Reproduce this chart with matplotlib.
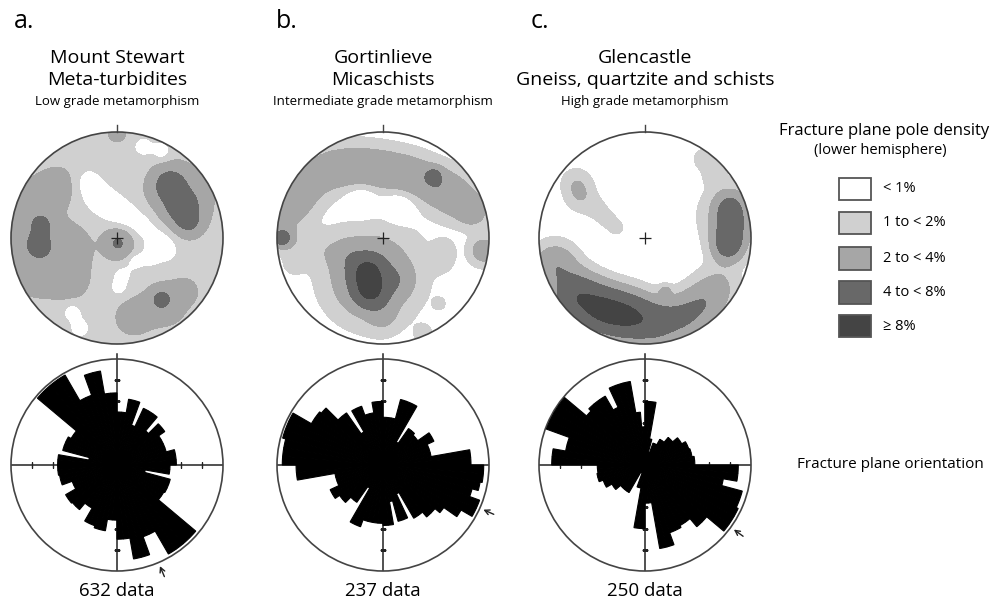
import numpy as np
import matplotlib
matplotlib.use("Agg")
import matplotlib.pyplot as plt
from matplotlib.patches import Circle, Rectangle

plt.rcParams['font.family'] = ['Open Sans', 'DejaVu Sans']

W, H = 991, 603

# panel texts
letters = ['a.', 'b.', 'c.']
sites = ['Mount Stewart', 'Gortinlieve', 'Glencastle']
rocks = ['Meta-turbidites', 'Micaschists', 'Gneiss, quartzite and schists']
grades = ['Low grade metamorphism', 'Intermediate grade metamorphism', 'High grade metamorphism']
counts = [632, 237, 250]

# density classes (%)
density_bounds = [1, 2, 4, 8]
density_labels = ['< 1%', '1 to < 2%', '2 to < 4%', '4 to < 8%', '\u2265 8%']
density_colors = ['#ffffff', '#d0d0d0', '#a6a6a6', '#686868', '#444444']

# pole concentrations: x, y (unit circle), spread, weight (%)
net_a_base = 1.5
net_a_x = [-0.75, -0.55, -0.75, -0.45, -0.45, -0.75, -0.72, -0.75,
           0.5, 0.62, 0.68, 0.6, 0.01, 0.42, 0.15, 0.45, 0.65, 0.0,
           -0.28, -0.18, -0.06, 0.08, 0.25, 0.4, 0.47, 0.32, 0.17, 0.05, 0.02,
           0.25, 0.42, -0.42, -0.35]
net_a_y = [0.35, 0.5, -0.1, -0.1, -0.4, -0.35, 0.12, -0.05,
           0.5, 0.3, 0.15, 0.38, -0.05, -0.58, -0.75, -0.62, -0.5, 0.99,
           0.52, 0.38, 0.3, 0.22, 0.12, -0.02, -0.12, -0.18, -0.22, -0.35, -0.47,
           0.86, 0.82, -0.7, -0.85]
net_a_s = [0.15, 0.12, 0.2, 0.15, 0.13, 0.15, 0.07, 0.07,
           0.1, 0.1, 0.08, 0.22, 0.09, 0.05, 0.12, 0.15, 0.08, 0.06,
           0.1, 0.1, 0.1, 0.1, 0.1, 0.09, 0.08, 0.07, 0.06, 0.06, 0.06,
           0.06, 0.06, 0.06, 0.06]
net_a_w = [1.3, 1.2, 1.5, 1.2, 1.2, 1.0, 2.5, 2.5,
           4.0, 4.0, 2.5, 1.3, 2.8, 3.5, 1.2, 1.3, 1.0, 1.3,
           -1.0, -1.0, -1.0, -1.0, -1.0, -1.0, -1.0, -1.0, -1.0, -1.0, -1.0,
           -1.3, -1.3, -1.3, -1.3]

net_b_base = 0.6
net_b_x = [-0.88, -0.75, -0.5, -0.25, 0.0, 0.25, 0.5, 0.7, 0.85, 0.48,
           -0.96, -0.92, 0.95, -0.15, -0.12, -0.12, -0.35, 0.15, 0.0, 0.0,
           -0.6, -0.85, 0.55, 0.58, 0.53, 0.38, -0.2, 0.15]
net_b_y = [0.3, 0.5, 0.65, 0.68, 0.65, 0.6, 0.5, 0.38, 0.25, 0.59,
           0.0, 0.0, -0.12, -0.32, -0.5, -0.38, -0.15, -0.4, -0.75, -0.2,
           -0.1, -0.25, -0.2, -0.1, -0.62, -0.9, 0.35, 0.3]
net_b_s = [0.14, 0.14, 0.14, 0.14, 0.14, 0.14, 0.14, 0.14, 0.1, 0.05,
           0.05, 0.09, 0.09, 0.1, 0.1, 0.25, 0.1, 0.1, 0.1, 0.35,
           0.12, 0.08, 0.08, 0.07, 0.04, 0.06, 0.1, 0.1]
net_b_w = [2.2, 2.2, 2.2, 2.2, 2.2, 2.2, 2.2, 2.2, 2.2, 2.5,
           4.0, 2.0, 2.5, 5.5, 5.5, 3.5, 1.0, 1.0, 1.0, 0.5,
           0.7, 0.6, 0.9, 0.6, 0.8, 0.8, -1.2, -1.2]

net_c_base = 0.5
net_c_x = [-0.65, -0.6, -0.45, -0.36, -0.27, 0.8, 0.81, 0.8, 0.78, 0.8, 0.55, 0.65,
           -0.85, -0.65, -0.4, -0.15, 0.1, 0.35, 0.55, 0.7, 0.19]
net_c_y = [0.52, 0.38, 0.27, 0.18, 0.1, 0.3, 0.15, 0.0, -0.1, 0.2, 0.75, 0.6,
           -0.25, -0.55, -0.68, -0.74, -0.8, -0.75, -0.62, -0.45, -0.5]
net_c_s = [0.1, 0.1, 0.07, 0.06, 0.06, 0.1, 0.1, 0.1, 0.1, 0.22, 0.07, 0.08,
           0.14, 0.15, 0.15, 0.15, 0.14, 0.14, 0.14, 0.14, 0.04]
net_c_w = [1.2, 1.2, 0.8, 0.8, 0.8, 3.0, 3.0, 3.0, 3.0, 1.3, 1.0, 0.8,
           3.0, 6.0, 7.0, 6.5, 4.0, 3.0, 2.5, 1.5, 1.5]

# rose diagrams: 5 degree bins from north, clockwise, length relative to outer circle
rose_a = [0.5, 0.5, 0.63, 0.63, 0.4, 0.59, 0.59, 0.59, 0.42, 0.55, 0.55, 0.48,
          0.48, 0.48, 0.48, 0.56, 0.56, 0.56, 0.5, 0.5, 0.27, 0.52, 0.52, 0.52,
          0.51, 0.51, 0.97, 0.97, 0.97, 0.97, 0.72, 0.72, 0.9, 0.9, 0.7, 0.7,
          0.52, 0.52, 0.63, 0.63, 0.61, 0.61, 0.47, 0.47, 0.55, 0.55, 0.56, 0.56,
          0.45, 0.45, 0.55, 0.55, 0.56, 0.56, 0.56, 0.56, 0.27, 0.53, 0.53, 0.53,
          0.5, 0.5, 0.98, 0.98, 0.98, 0.98, 0.7, 0.7, 0.9, 0.9, 0.68, 0.68]
rose_b = [0.45, 0.45, 0.45, 0.64, 0.64, 0.64, 0.25, 0.42, 0.42, 0.4, 0.4, 0.53,
          0.53, 0.46, 0.46, 0.46, 0.83, 0.83, 0.95, 0.95, 0.93, 0.87, 0.97, 0.97,
          0.85, 0.7, 0.64, 0.64, 0.58, 0.58, 0.3, 0.55, 0.55, 0.35, 0.57, 0.57,
          0.55, 0.55, 0.55, 0.55, 0.62, 0.62, 0.25, 0.43, 0.43, 0.5, 0.5, 0.55,
          0.55, 0.46, 0.46, 0.46, 0.82, 0.82, 0.95, 0.95, 0.95, 0.98, 0.98, 0.98,
          0.78, 0.78, 0.76, 0.6, 0.6, 0.36, 0.59, 0.59, 0.5, 0.5, 0.6, 0.6]
rose_c = [0.6, 0.6, 0.25, 0.12, 0.22, 0.22, 0.28, 0.28, 0.34, 0.34, 0.4, 0.4,
          0.44, 0.44, 0.45, 0.45, 0.47, 0.47, 0.88, 0.88, 0.75, 0.95, 0.95, 0.97,
          0.97, 0.97, 0.76, 0.76, 0.66, 0.66, 0.68, 0.68, 0.8, 0.8, 0.36, 0.36,
          0.6, 0.6, 0.22, 0.22, 0.08, 0.08, 0.3, 0.3, 0.3, 0.3, 0.36, 0.36,
          0.42, 0.42, 0.46, 0.46, 0.45, 0.45, 0.88, 0.88, 0.76, 0.76, 0.99, 0.99,
          0.99, 0.99, 0.72, 0.75, 0.75, 0.75, 0.6, 0.8, 0.8, 0.8, 0.5, 0.36]
arrow_az = [157, 114, 126]

nets = [(net_a_base, net_a_x, net_a_y, net_a_s, net_a_w),
        (net_b_base, net_b_x, net_b_y, net_b_s, net_b_w),
        (net_c_base, net_c_x, net_c_y, net_c_s, net_c_w)]
roses = [rose_a, rose_b, rose_c]

col_x = [117, 383, 645]
net_y = 238
rose_y = 465
R = 106

fig = plt.figure(figsize=(W / 100, H / 100), dpi=100)


def px_axes(cx, cy, half, **kw):
    return fig.add_axes([(cx - half) / W, 1 - (cy + half) / H, 2 * half / W, 2 * half / H], **kw)


def ftext(x, y, s, **kw):
    fig.text(x / W, 1 - y / H, s, **kw)


g = np.linspace(-1.0, 1.0, 401)
X, Y = np.meshgrid(g, g)

for i in range(3):
    cx = col_x[i]
    # stereonet
    base, xs, ys, ss, ws = nets[i]
    Z = np.full_like(X, base)
    for x0, y0, s, w in zip(xs, ys, ss, ws):
        Z += w * np.exp(-((X - x0) ** 2 + (Y - y0) ** 2) / (2 * s ** 2))
    ax = px_axes(cx, net_y, R * 1.1)
    ax.set_xlim(-1.1, 1.1)
    ax.set_ylim(-1.1, 1.1)
    ax.axis('off')
    cs = ax.contourf(X, Y, Z, levels=[-100] + density_bounds + [100], colors=density_colors)
    clip = Circle((0, 0), 1, transform=ax.transData)
    cs.set_clip_path(clip)
    ax.add_patch(Circle((0, 0), 1, fill=False, ec='#444444', lw=1.2))
    ax.plot(0, 0, marker='+', ms=9, mew=0.9, color='#222222')
    ax.plot([0, 0], [1, 1.07], color='#444444', lw=1)

    # rose
    pax = px_axes(cx, rose_y, R, projection='polar')
    pax.set_theta_zero_location('N')
    pax.set_theta_direction(-1)
    vals = roses[i]
    theta = np.deg2rad(np.arange(len(vals)) * 5)
    pax.bar(theta, vals, width=np.deg2rad(5), align='edge', color='black',
            edgecolor='black', lw=0.8, zorder=3)
    pax.set_ylim(0, 1)
    pax.grid(False)
    pax.set_xticks([])
    pax.set_yticks([])
    pax.spines['polar'].set_color('#444444')
    pax.spines['polar'].set_linewidth(1.2)
    pax.plot([0, 0], [0, 1.05], color='#222222', lw=1.1, clip_on=False, zorder=2)
    for a in [np.pi / 2, np.pi, 3 * np.pi / 2]:
        pax.plot([a, a], [0, 1], color='#222222', lw=1.1, zorder=2)
    rt = [0.2, 0.4, 0.6, 0.8]
    for a, m in [(0, '_'), (np.pi, '_'), (np.pi / 2, '|'), (3 * np.pi / 2, '|')]:
        pax.plot([a] * 4, rt, ls='', marker=m, ms=5, mew=1, color='#222222', zorder=2)
    az = np.deg2rad(arrow_az[i])
    pax.annotate('', xy=(az, 1.01), xytext=(az, 1.17), annotation_clip=False,
                 arrowprops=dict(arrowstyle='->,head_length=0.35,head_width=0.18', lw=1, color='#222222'))

    # texts
    ftext([24, 287, 540][i], 22, letters[i], ha='center', va='center', fontsize=18)
    ftext(cx, 58, sites[i], ha='center', va='center', fontsize=14)
    ftext(cx, 80, rocks[i], ha='center', va='center', fontsize=14)
    ftext(cx, 101, grades[i], ha='center', va='center', fontsize=9.5)
    ftext(cx, 591, '%d data' % counts[i], ha='center', va='center', fontsize=13.5)

# legend
ftext(884, 131, 'Fracture plane pole density', ha='center', va='center', fontsize=12)
ftext(880, 150, '(lower hemisphere)', ha='center', va='center', fontsize=10.5)
box_y = [188.5, 223, 258.5, 292.5, 326.5]
for yc, col, lab in zip(box_y, density_colors, density_labels):
    fig.add_artist(Rectangle((839 / W, 1 - (yc + 11) / H), 32 / W, 22 / H, transform=fig.transFigure,
                             fc=col, ec='#555555', lw=1.3))
    ftext(883, yc, lab, ha='left', va='center', fontsize=10.5)

ftext(890, 465, 'Fracture plane orientation', ha='center', va='center', fontsize=11)

fig.savefig('out.png', dpi=100)
